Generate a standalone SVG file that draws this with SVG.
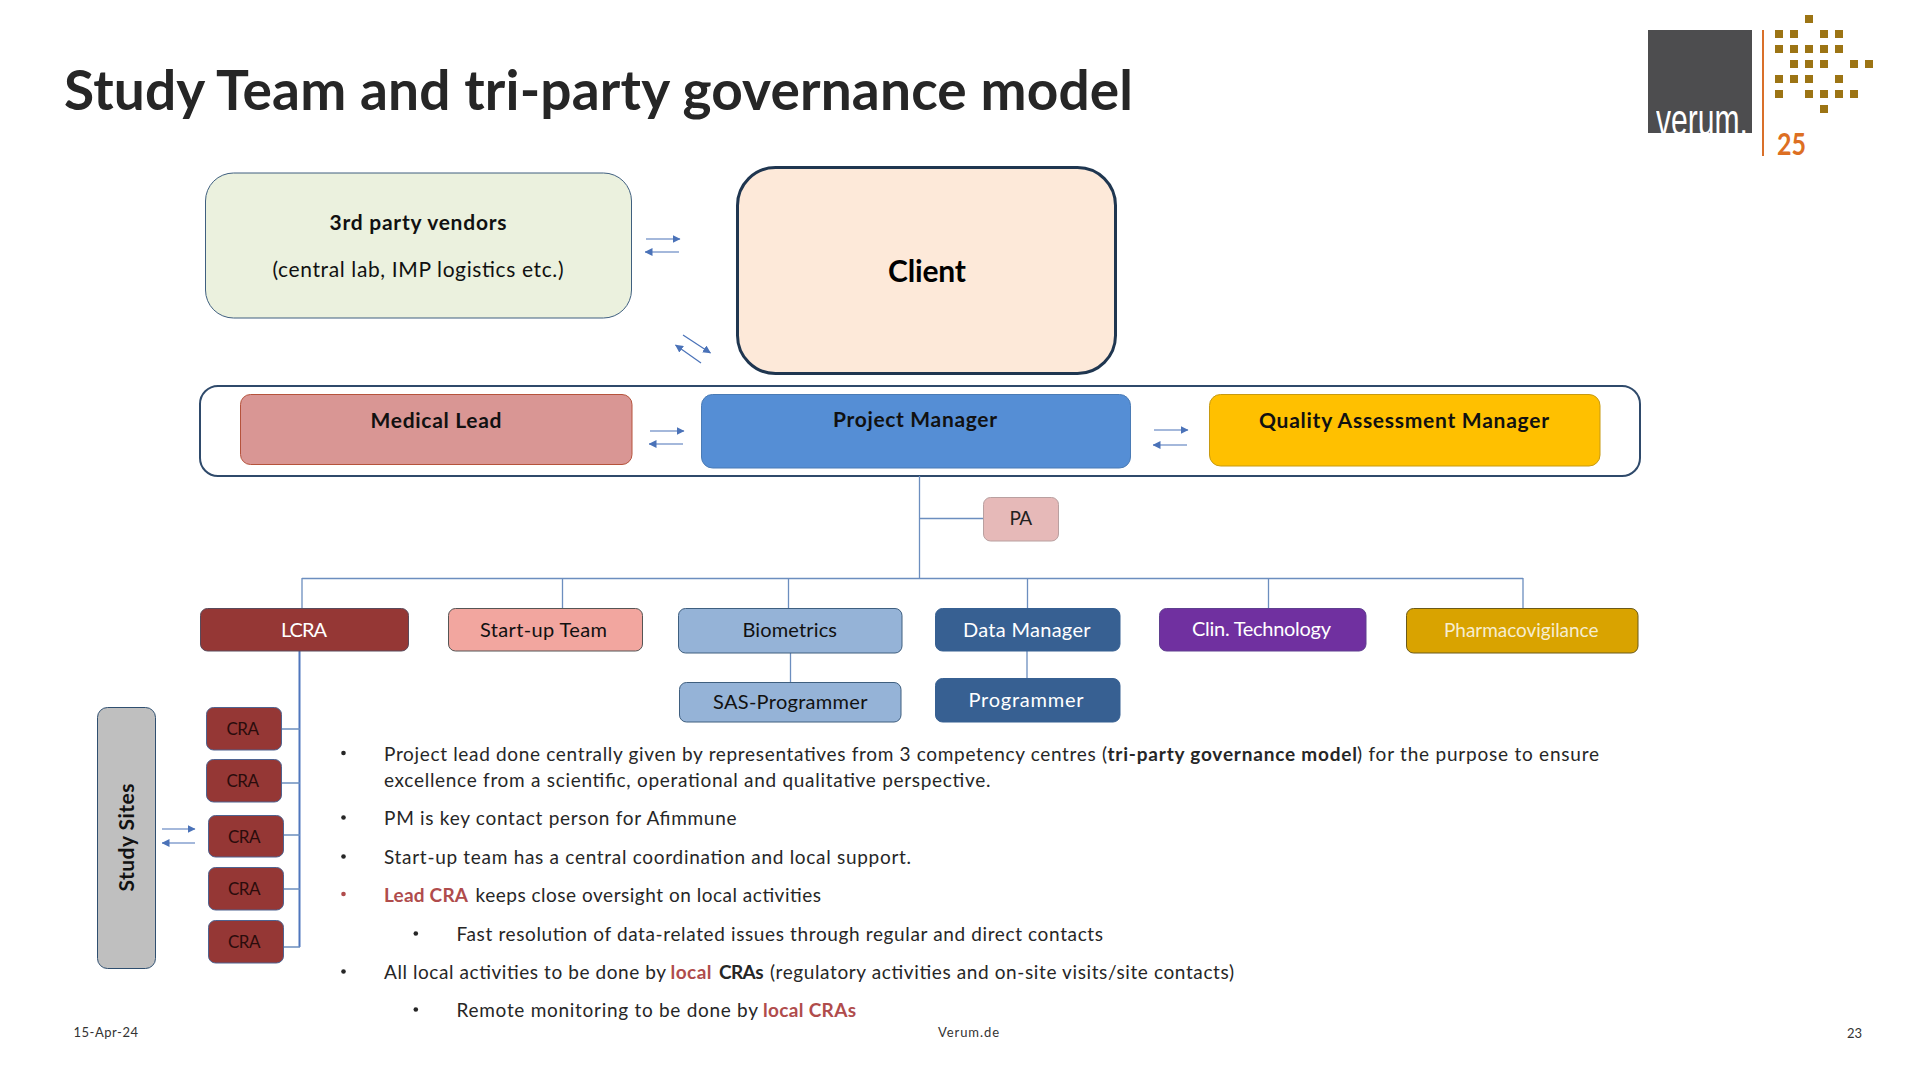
<svg xmlns="http://www.w3.org/2000/svg" width="1920" height="1080" viewBox="0 0 1920 1080">
<style>
text{font-family:"Lato","Open Sans","Liberation Sans",sans-serif;fill:#111}
.b{font-weight:700}
.n{font-size:21px}
.w{fill:#fff}
.body{font-size:19px;fill:#262626}
.red{fill:#b04c4c;font-weight:700}
.foot{font-size:13px;fill:#333}
.cra rect{fill:#953735;stroke:#4f6390;stroke-width:1}
.cra text{font-size:17px;fill:#2a0c0c}
.c{fill:none;stroke:#6c8ebf;stroke-width:1.3}
.a{fill:none;stroke:#4a72b8;stroke-width:1.2;marker-end:url(#ah)}
.d{fill:#9c7414}
</style>
<defs>
<marker id="ah" viewBox="0 0 8 8" refX="7.5" refY="4" markerWidth="8" markerHeight="8" markerUnits="userSpaceOnUse" orient="auto"><path d="M0 0L8 4L0 8z" fill="#4a72b8"/></marker>
<clipPath id="lg"><rect x="0" y="-110" width="150" height="108.500"/></clipPath>
</defs>
<rect width="1920" height="1080" fill="#fff"/>
<text id="title" class="b" x="64" y="110" font-size="55" textLength="1069" style="fill:#262626">Study Team and tri-party governance model</text>

<g id="logo">
<rect x="1648" y="30" width="104" height="103" fill="#4d4d4f"/>
<g transform="translate(1656 134.500) scale(.684 1)"><text x="0" y="0" font-size="44" clip-path="url(#lg)" style="font-family:'Liberation Sans',sans-serif;fill:#fff">verum.</text></g>
<rect x="1762" y="30" width="2" height="126" fill="#d9702a"/>
<g class="d">
<rect x="1805" y="15" width="8" height="8"/>
<rect x="1775" y="30" width="8" height="8"/><rect x="1790" y="30" width="8" height="8"/><rect x="1820" y="30" width="8" height="8"/><rect x="1835" y="30" width="8" height="8"/>
<rect x="1775" y="45" width="8" height="8"/><rect x="1790" y="45" width="8" height="8"/><rect x="1805" y="45" width="8" height="8"/><rect x="1820" y="45" width="8" height="8"/><rect x="1835" y="45" width="8" height="8"/>
<rect x="1790" y="60" width="8" height="8"/><rect x="1805" y="60" width="8" height="8"/><rect x="1820" y="60" width="8" height="8"/><rect x="1850" y="60" width="8" height="8"/><rect x="1865" y="60" width="8" height="8"/>
<rect x="1775" y="75" width="8" height="8"/><rect x="1790" y="75" width="8" height="8"/><rect x="1805" y="75" width="8" height="8"/><rect x="1835" y="75" width="8" height="8"/>
<rect x="1775" y="90" width="8" height="8"/><rect x="1805" y="90" width="8" height="8"/><rect x="1820" y="90" width="8" height="8"/><rect x="1835" y="90" width="8" height="8"/><rect x="1850" y="90" width="8" height="8"/>
<rect x="1820" y="105" width="8" height="8"/>
</g>
<text class="b" x="1777" y="155" font-size="31" textLength="29" lengthAdjust="spacingAndGlyphs" style="fill:#dd6f22">25</text>
</g>

<g id="governance-frame"><rect x="200" y="386" width="1440" height="90" rx="18" fill="#fff" stroke="#2f4a6b" stroke-width="2"/></g>

<g id="connectors">
<path class="c" d="M919.500 476V578M919.500 518.500H983M302 578.500H1523M302 578V608M562.500 578V608M788.500 578V608M1027.500 578V608M1268.500 578V608M1523 578V608M790.500 653V682M1027 651V678"/>
<path d="M299.500 651V947" fill="none" stroke="#4f76bd" stroke-width="2"/>
<path class="c" d="M281 729H300M281 783H300M283 835H300M283 889H300M283 947H300"/>
<path class="a" d="M646 239H680"/><path class="a" d="M679 252H645"/>
<path class="a" d="M683 335L710.500 353"/><path class="a" d="M701 363L675.500 345"/>
<path class="a" d="M650 431H684"/><path class="a" d="M683 444H649"/>
<path class="a" d="M1154 430H1188"/><path class="a" d="M1187 445H1153"/>
<path class="a" d="M162 829H195"/><path class="a" d="M195 843H162"/>
</g>

<g id="vendors"><rect x="205.500" y="173" width="426" height="145" rx="28" fill="#ebf1de" stroke="#3f5f7f" stroke-width="1"/>
<text class="n b" x="329.500" y="230" textLength="177">3rd party vendors</text>
<text class="n" x="272.500" y="277" textLength="291">(central lab, IMP logistics etc.)</text></g>
<g id="client"><rect x="737.500" y="167.500" width="378" height="206" rx="38" fill="#fde9d9" stroke="#1f3650" stroke-width="3"/>
<text class="b" x="888" y="282" font-size="30" textLength="78" style="fill:#000">Client</text></g>
<g id="medical-lead"><rect x="240.500" y="394.500" width="391.500" height="70" rx="10" fill="#d99694" stroke="#b5533c" stroke-width="1"/>
<text class="n b" x="370.500" y="428" textLength="131">Medical Lead</text></g>
<g id="project-manager"><rect x="701.500" y="394.500" width="429" height="73.500" rx="11" fill="#558ed5" stroke="#4a7bb5" stroke-width="1"/>
<text class="n b" x="833" y="427" textLength="164">Project Manager</text></g>
<g id="qa-manager"><rect x="1209.500" y="394.500" width="390.500" height="71.500" rx="11" fill="#ffc000" stroke="#c79a10" stroke-width="1"/>
<text class="n b" x="1259" y="428" textLength="290">Quality Assessment Manager</text></g>
<g id="pa"><rect x="983.500" y="497.500" width="75" height="43.500" rx="7" fill="#e6b9b8" stroke="#b9a0a0" stroke-width="1"/>
<text x="1009.500" y="525" font-size="19" textLength="22.500" style="fill:#222">PA</text></g>

<g id="lcra"><rect x="200.500" y="608.500" width="208" height="42.500" rx="7" fill="#953735" stroke="#5a4a5a" stroke-width="1"/>
<text class="w" x="281" y="637" font-size="20" textLength="46" style="fill:#fff">LCRA</text></g>
<g id="startup"><rect x="448.500" y="608.500" width="194" height="42.500" rx="7" fill="#f2a69f" stroke="#555" stroke-width="1"/>
<text x="480" y="637" font-size="20" textLength="127">Start-up Team</text></g>
<g id="biometrics"><rect x="678.500" y="608.500" width="223.500" height="44.500" rx="7" fill="#95b3d7" stroke="#3f5f7f" stroke-width="1"/>
<text x="742.500" y="637" font-size="20" textLength="94.500">Biometrics</text></g>
<g id="sas-programmer"><rect x="679.500" y="682.500" width="221.500" height="39.500" rx="7" fill="#95b3d7" stroke="#3f5f7f" stroke-width="1"/>
<text x="713" y="709" font-size="20" textLength="154.500">SAS-Programmer</text></g>
<g id="data-manager"><rect x="935.500" y="608.500" width="184.500" height="42.500" rx="7" fill="#376092" stroke="#376092" stroke-width="1"/>
<text x="963" y="637" font-size="20" textLength="127.500" style="fill:#fff">Data Manager</text></g>
<g id="programmer"><rect x="935.500" y="678.500" width="184.500" height="43.500" rx="7" fill="#376092" stroke="#376092" stroke-width="1"/>
<text x="968.500" y="706.500" font-size="20" textLength="115" style="fill:#fff">Programmer</text></g>
<g id="clin-tech"><rect x="1159.500" y="608.500" width="206.500" height="42.500" rx="7" fill="#7030a0" stroke="#5f3f8f" stroke-width="1"/>
<text x="1192" y="636" font-size="20" textLength="139" style="fill:#fff">Clin. Technology</text></g>
<g id="pharmacovigilance"><rect x="1406.500" y="608.500" width="231.500" height="44.500" rx="7" fill="#d9a300" stroke="#6b5a1a" stroke-width="1"/>
<text x="1444" y="637" font-size="19" textLength="154.500" style="fill:#f6edd0">Pharmacovigilance</text></g>

<g id="study-sites"><rect x="97.500" y="707.500" width="58" height="261" rx="10" fill="#bfbfbf" stroke="#2f4f70" stroke-width="1"/>
<text class="b" transform="translate(134 891.500) rotate(-90)" font-size="21" textLength="108">Study Sites</text></g>
<g id="cra-1" class="cra"><rect x="206.500" y="707.500" width="75" height="42.500" rx="7"/><text x="226.500" y="735" textLength="32.500">CRA</text></g>
<g id="cra-2" class="cra"><rect x="206.500" y="759.500" width="75" height="42.500" rx="7"/><text x="226.500" y="787" textLength="32.500">CRA</text></g>
<g id="cra-3" class="cra"><rect x="208.500" y="815.500" width="75" height="41.500" rx="7"/><text x="228" y="843" textLength="32.500">CRA</text></g>
<g id="cra-4" class="cra"><rect x="208.500" y="867.500" width="75" height="42.500" rx="7"/><text x="228" y="895" textLength="32.500">CRA</text></g>
<g id="cra-5" class="cra"><rect x="208.500" y="920.500" width="75" height="42.500" rx="7"/><text x="228" y="948" textLength="32.500">CRA</text></g>

<g id="notes">
<g fill="#262626"><circle cx="343.500" cy="753" r="2.300"/><circle cx="343.500" cy="817.500" r="2.300"/><circle cx="343.500" cy="856.500" r="2.300"/><circle cx="415.800" cy="933.500" r="2.300"/><circle cx="343.500" cy="971.500" r="2.300"/><circle cx="415.800" cy="1009.500" r="2.300"/></g>
<circle cx="343.500" cy="894" r="2.300" fill="#b04c4c"/>
<text class="body" x="384" y="761" textLength="723">Project lead done centrally given by representatives from 3 competency centres (</text>
<text class="body b" x="1107.500" y="761" textLength="249.500">tri-party governance model</text>
<text class="body" x="1357" y="761" textLength="242">) for the purpose to ensure</text>
<text class="body" x="384" y="787" textLength="606.500">excellence from a scientific, operational and qualitative perspective.</text>
<text class="body" x="384" y="825" textLength="352.500">PM is key contact person for Afimmune</text>
<text class="body" x="384" y="864" textLength="527">Start-up team has a central coordination and local support.</text>
<text class="body red" x="384" y="902" textLength="84">Lead CRA</text>
<text class="body" x="475.500" y="902" textLength="345.500">keeps close oversight on local activities</text>
<text class="body" x="456.500" y="941" textLength="646.500">Fast resolution of data-related issues through regular and direct contacts</text>
<text class="body" x="384" y="979" textLength="282">All local activities to be done by</text>
<text class="body red" x="670.500" y="979" textLength="41">local</text>
<text class="body b" x="719" y="979" textLength="44.500">CRAs</text>
<text class="body" x="770" y="979" textLength="464">(regulatory activities and on-site visits/site contacts)</text>
<text class="body" x="456.500" y="1017" textLength="301.500">Remote monitoring to be done by</text>
<text class="body red" x="763" y="1017" textLength="93">local CRAs</text>
</g>
<g id="footer">
<text class="foot" x="73.500" y="1037" textLength="64.500">15-Apr-24</text>
<text class="foot" x="938" y="1037" textLength="61">Verum.de</text>
<text class="foot" x="1847" y="1038" textLength="15">23</text>
</g>
</svg>
